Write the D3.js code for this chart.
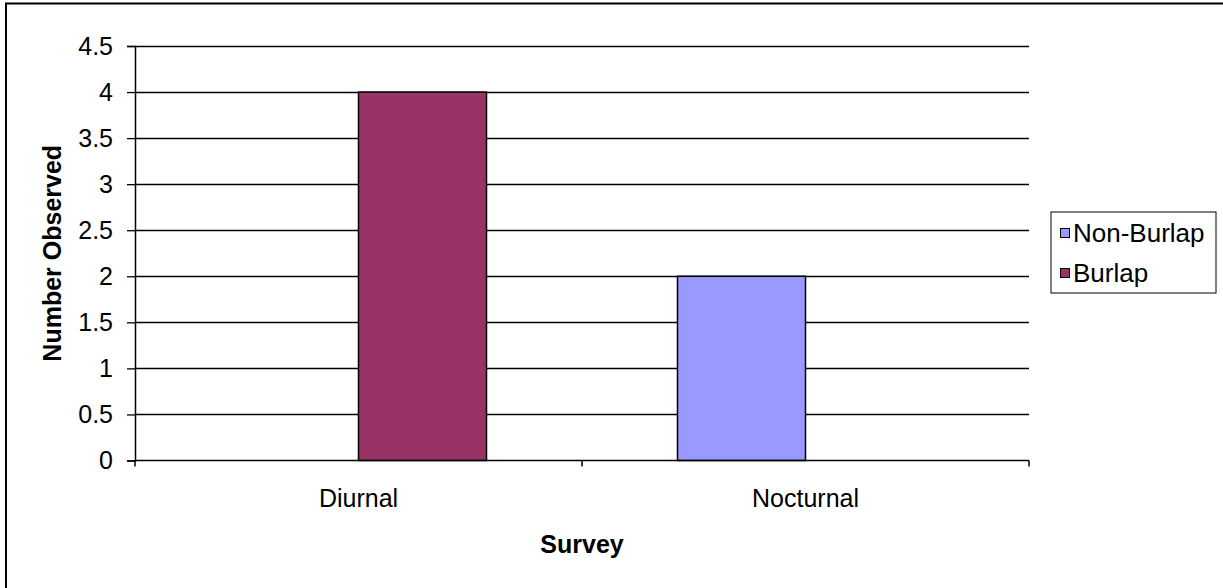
<!DOCTYPE html>
<html>
<head>
<meta charset="utf-8">
<script src="https://cdn.jsdelivr.net/npm/d3@7"></script>
<style>
  html, body { margin: 0; padding: 0; background: #fff; }
  svg { display: block; font-family: "Liberation Sans", Arial, sans-serif; }
</style>
</head>
<body>
<svg id="chart" width="1223" height="588"></svg>
<script>
const categories = ["Diurnal", "Nocturnal"];
const seriesNames = ["Non-Burlap", "Burlap"];
const nonBurlap = [0, 2];
const burlap = [4, 0];
const yTicks = [0, 0.5, 1, 1.5, 2, 2.5, 3, 3.5, 4, 4.5];
const yTickLabels = ["0", "0.5", "1", "1.5", "2", "2.5", "3", "3.5", "4", "4.5"];
const seriesColors = ["#9999FF", "#993366"];

const FS = 25;
const svg = d3.select("#chart");
const W = 1223, H = 588;

// outer chart border (extends past image at right/bottom)
svg.append("rect")
  .attr("x", 6).attr("y", 3.5)
  .attr("width", W + 10).attr("height", H + 10)
  .attr("fill", "#fff").attr("stroke", "#000").attr("stroke-width", 2);

const plot = { left: 135, right: 1029, top: 46, bottom: 460.5 };

const y = d3.scaleLinear().domain([0, 4.5]).range([plot.bottom, plot.top]);
const x0 = d3.scaleBand().domain(categories).range([plot.left, plot.right]).padding(0);
const x1 = d3.scaleBand().domain(seriesNames).range([0, x0.bandwidth()])
  .paddingInner(0).paddingOuter(0.746);

const g = svg.append("g");

// gridlines
g.append("g").selectAll("line").data(yTicks.filter(d => d > 0)).join("line")
  .attr("x1", plot.left).attr("x2", plot.right)
  .attr("y1", d => Math.round(y(d)) + 0.5).attr("y2", d => Math.round(y(d)) + 0.5)
  .attr("stroke", "#000").attr("stroke-width", 1.3);

// bars
const data = [];
categories.forEach((c, i) => {
  data.push({ cat: c, series: seriesNames[0], value: nonBurlap[i], color: seriesColors[0] });
  data.push({ cat: c, series: seriesNames[1], value: burlap[i], color: seriesColors[1] });
});
g.append("g").selectAll("rect").data(data.filter(d => d.value > 0)).join("rect")
  .attr("x", d => x0(d.cat) + x1(d.series))
  .attr("y", d => y(d.value))
  .attr("width", x1.bandwidth())
  .attr("height", d => y(0) - y(d.value))
  .attr("fill", d => d.color)
  .attr("stroke", "#000").attr("stroke-width", 1.5);

// y axis
const yAxis = d3.axisLeft(y).tickValues(yTicks)
  .tickFormat((d, i) => yTickLabels[i]).tickSize(8).tickPadding(14);
const ya = svg.append("g").attr("transform", `translate(${plot.left},0)`).call(yAxis);
ya.select(".domain").attr("stroke", "#000").attr("stroke-width", 1.5);
ya.selectAll(".tick line").attr("stroke", "#000").attr("stroke-width", 1.3);
ya.selectAll("text").attr("font-size", FS).attr("fill", "#000")
  .attr("font-family", "Liberation Sans, Arial, sans-serif");

// x axis line + ticks at category boundaries
const xa = svg.append("g");
xa.append("line").attr("x1", plot.left).attr("x2", plot.right)
  .attr("y1", plot.bottom).attr("y2", plot.bottom)
  .attr("stroke", "#000").attr("stroke-width", 1.5);
const boundaries = categories.map(c => x0(c)).concat([x0(categories[categories.length - 1]) + x0.bandwidth()]);
xa.selectAll("line.tk").data(boundaries).join("line").attr("class", "tk")
  .attr("x1", d => d).attr("x2", d => d)
  .attr("y1", plot.bottom).attr("y2", plot.bottom + 6)
  .attr("stroke", "#000").attr("stroke-width", 1.5);
xa.selectAll("text").data(categories).join("text")
  .attr("x", d => x0(d) + x0.bandwidth() / 2)
  .attr("y", 507)
  .attr("text-anchor", "middle").attr("font-size", FS).attr("fill", "#000")
  .text(d => d);

// axis titles
svg.append("text")
  .attr("x", (plot.left + plot.right) / 2).attr("y", 553)
  .attr("text-anchor", "middle").attr("font-size", FS).attr("font-weight", "bold")
  .text("Survey");
svg.append("text")
  .attr("transform", `translate(61,${(plot.top + plot.bottom) / 2}) rotate(-90)`)
  .attr("text-anchor", "middle").attr("font-size", FS).attr("font-weight", "bold")
  .text("Number Observed");

// legend
const lg = svg.append("g");
lg.append("rect").attr("x", 1051).attr("y", 212).attr("width", 165).attr("height", 81)
  .attr("fill", "#fff").attr("stroke", "#000").attr("stroke-width", 1);
seriesNames.forEach((s, i) => {
  const by = 242 + i * 40;
  lg.append("rect").attr("x", 1060.5).attr("y", by - 13.5).attr("width", 9).attr("height", 9)
    .attr("fill", seriesColors[i]).attr("stroke", "#000").attr("stroke-width", 1);
  lg.append("text").attr("x", 1073).attr("y", by)
    .attr("font-size", 26).attr("fill", "#000").text(s);
});
</script>
</body>
</html>
